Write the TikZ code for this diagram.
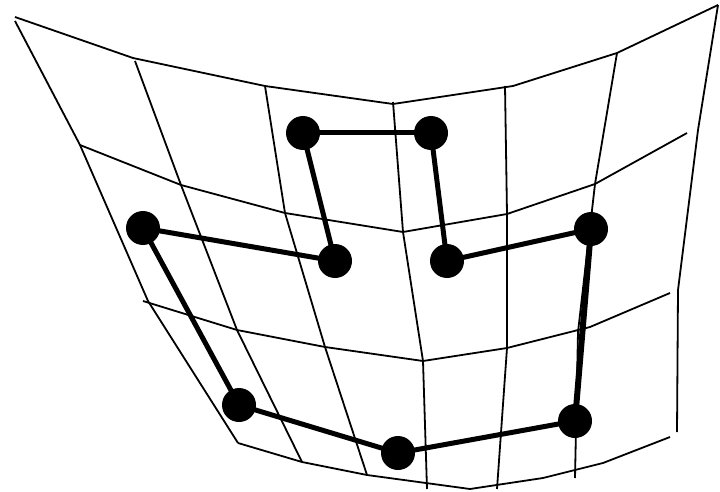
\documentclass[tikz,border=0pt]{standalone}
\begin{document}
\begin{tikzpicture}[x=1pt,y=-1pt,
  gridline/.style={line width=1.8pt,line join=miter},
  dot/.style={circle,fill=black,inner sep=0pt,minimum size=34pt},
  link/.style={line width=5pt}]
\fill[white] (0,0) rectangle (720,492);
\useasboundingbox (0,0) rectangle (720,492);
% rows
\draw[gridline] (15,17)--(133,58)--(265,86)--(393,104)--(513,86)--(617,53)--(718,5);
\draw[gridline] (80,145)--(181,185)--(285,213)--(403,232)--(507,214)--(595,184)--(687,133);
\draw[gridline] (143,301)--(237,330)--(325,347)--(423,361)--(507,348)--(590,327)--(670,293);
\draw[gridline] (238,443)--(302,462)--(367,475)--(470,489)--(543,478)--(603,463)--(670,437);
% columns
\draw[gridline] (15,21)--(80,145)--(148,301)--(238,443);
\draw[gridline] (135,61)--(181,185)--(237,330)--(302,462);
\draw[gridline] (265,86)--(285,213)--(325,347)--(367,475);
\draw[gridline] (393,102)--(403,232)--(423,361)--(427,489);
\draw[gridline] (505,86)--(507,214)--(507,348)--(497,489);
\draw[gridline] (617,53)--(595,184)--(578,332)--(575,478);
\draw[gridline] (718,5)--(698,130)--(678,290)--(677,432);
% dots
\node[dot] (d1) at (303,133) {};
\node[dot] (d2) at (431,133) {};
\node[dot] (d3) at (335,261) {};
\node[dot] (d4) at (447,261) {};
\node[dot] (d5) at (143,228) {};
\node[dot] (d6) at (591,229) {};
\node[dot] (d7) at (239,405) {};
\node[dot] (d8) at (575,421) {};
\node[dot] (d9) at (398,453) {};
% links
\draw[link] (d1.center)--(d2.center);
\draw[link] (d1.center)--(d3.center);
\draw[link] (d2.center)--(d4.center);
\draw[link] (d3.center)--(d5.center);
\draw[link] (d4.center)--(d6.center);
\draw[link] (d5.center)--(d7.center);
\draw[link,line width=6pt] (d6.center)--(d8.center);
\draw[link] (d7.center)--(d9.center);
\draw[link] (d9.center)--(d8.center);
\end{tikzpicture}
\end{document}
